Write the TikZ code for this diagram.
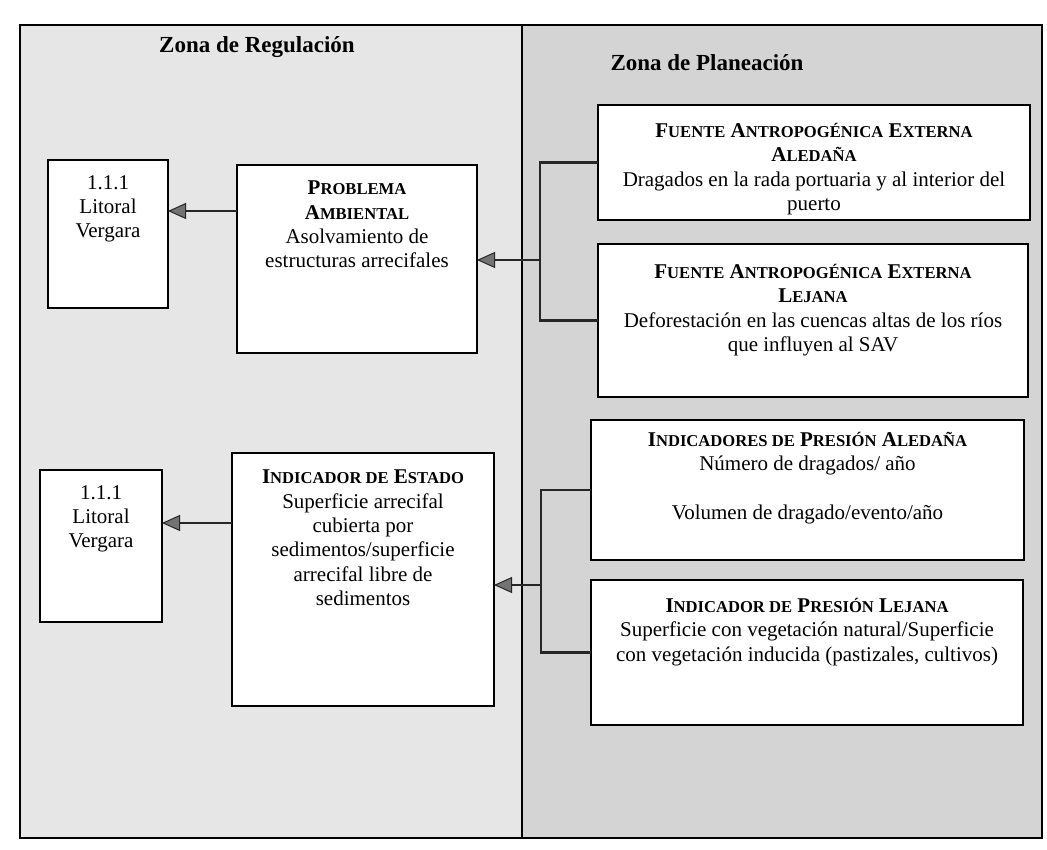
\documentclass[tikz,border=0pt]{standalone}
\usepackage{fontspec}
\setmainfont{Liberation Serif}
\usepackage{xcolor}
\usepackage{tikz}
\usetikzlibrary{arrows.meta,positioning}

\definecolor{fondoreg}{HTML}{E6E6E6}
\definecolor{fondopla}{HTML}{D4D4D4}
\newcommand\cuerpo{\fontsize{21}{24.3}\selectfont}
\newcommand\versal[1]{{\fontsize{16.6}{24.3}\selectfont #1}}

\begin{document}
\begin{tikzpicture}[
    x=1pt, y=-1pt,
    caja/.style={draw=black, line width=2pt, fill=white, inner sep=0pt, outer sep=0pt, anchor=north west},
    texto/.style={align=center, inner sep=0pt, font=\cuerpo},
    titulo/.style={font=\fontsize{23}{26}\selectfont\bfseries},
    linea/.style={line width=2.4pt, draw=black!85},
    flecha/.style={linea, -{Triangle[length=18pt, width=16pt, fill=black!55, line width=1pt]}}
]
    \useasboundingbox (0,0) rectangle (1047,850);

    % Zones
    \fill[fondoreg] (20,25) rectangle (522,838);
    \fill[fondopla] (522,25) rectangle (1042,838);
    \draw[line width=2pt] (20,25) rectangle (1042,838);
    \draw[line width=1.6pt] (522,25) -- (522,838);

    \node[titulo] (treg) at (257,47) {Zona de Regulación};
    \node[titulo] (tpla) at (707,63) {Zona de Planeación};

    % Zona de Regulacion -- boxes
    \node[caja, minimum width=120pt, minimum height=148pt] (lit1) at (48,160) {};
    \node[caja, minimum width=240pt, minimum height=188pt] (prob) at (237,165) {};
    \node[caja, minimum width=122pt, minimum height=152pt] (lit2) at (40,470) {};
    \node[caja, minimum width=262pt, minimum height=253pt] (estado) at (232,453) {};

    \node[texto, below=15pt of lit1.north] (lit1t) {1.1.1\\Litoral\\Vergara};
    \node[texto, below=16pt of prob.north] (probt)
        {\bfseries P\versal{ROBLEMA}\\\bfseries A\versal{MBIENTAL}\\Asolvamiento de\\estructuras arrecifales};
    \node[texto, below=15pt of lit2.north] (lit2t) {1.1.1\\Litoral\\Vergara};
    \node[texto, below=17pt of estado.north] (estadot)
        {\bfseries I\versal{NDICADOR DE} E\versal{STADO}\\Superficie arrecifal\\cubierta por\\sedimentos/superficie\\arrecifal libre de\\sedimentos};

    % Zona de Planeacion -- boxes
    \node[caja, minimum width=432pt, minimum height=115pt] (fuenteA) at (598,105) {};
    \node[caja, minimum width=430pt, minimum height=153pt, below=24pt of fuenteA.south west, anchor=north west] (fuenteB) {};
    \node[caja, minimum width=433pt, minimum height=140pt] (presA) at (591,420) {};
    \node[caja, minimum width=432pt, minimum height=145pt, below=20pt of presA.south west, anchor=north west] (presB) {};

    \node[texto, below=18pt of fuenteA.north] (fuenteAt)
        {\bfseries F\versal{UENTE} A\versal{NTROPOGÉNICA} E\versal{XTERNA}\\\bfseries A\versal{LEDAÑA}\\Dragados en la rada portuaria y al interior del\\puerto};
    \node[texto, below=20pt of fuenteB.north] (fuenteBt)
        {\bfseries F\versal{UENTE} A\versal{NTROPOGÉNICA} E\versal{XTERNA}\\\bfseries L\versal{EJANA}\\Deforestación en las cuencas altas de los ríos\\que influyen al SAV};
    \node[texto, below=12pt of presA.north] (presAt)
        {\bfseries I\versal{NDICADORES DE} P\versal{RESIÓN} A\versal{LEDAÑA}\\Número de dragados/ año\\[24pt]Volumen de dragado/evento/año};
    \node[texto, below=18pt of presB.north] (presBt)
        {\bfseries I\versal{NDICADOR DE} P\versal{RESIÓN} L\versal{EJANA}\\Superficie con vegetación natural/Superficie\\con vegetación inducida (pastizales, cultivos)};

    % Connectors
    \coordinate (brA) at (540,260);
    \coordinate (brB) at (541,585);
    \coordinate (flA) at (237,211);
    \coordinate (flB) at (232,523);

    \draw[linea] (fuenteA.west) -| (brA) |- (fuenteB.west);
    \draw[linea] (presA.west) -| (brB) |- (presB.west);
    \draw[flecha] (brA) -- (prob.east |- brA);
    \draw[flecha] (brB) -- (estado.east |- brB);
    \draw[flecha] (prob.west |- flA) -- (lit1.east |- flA);
    \draw[flecha] (estado.west |- flB) -- (lit2.east |- flB);

\end{tikzpicture}
\end{document}
